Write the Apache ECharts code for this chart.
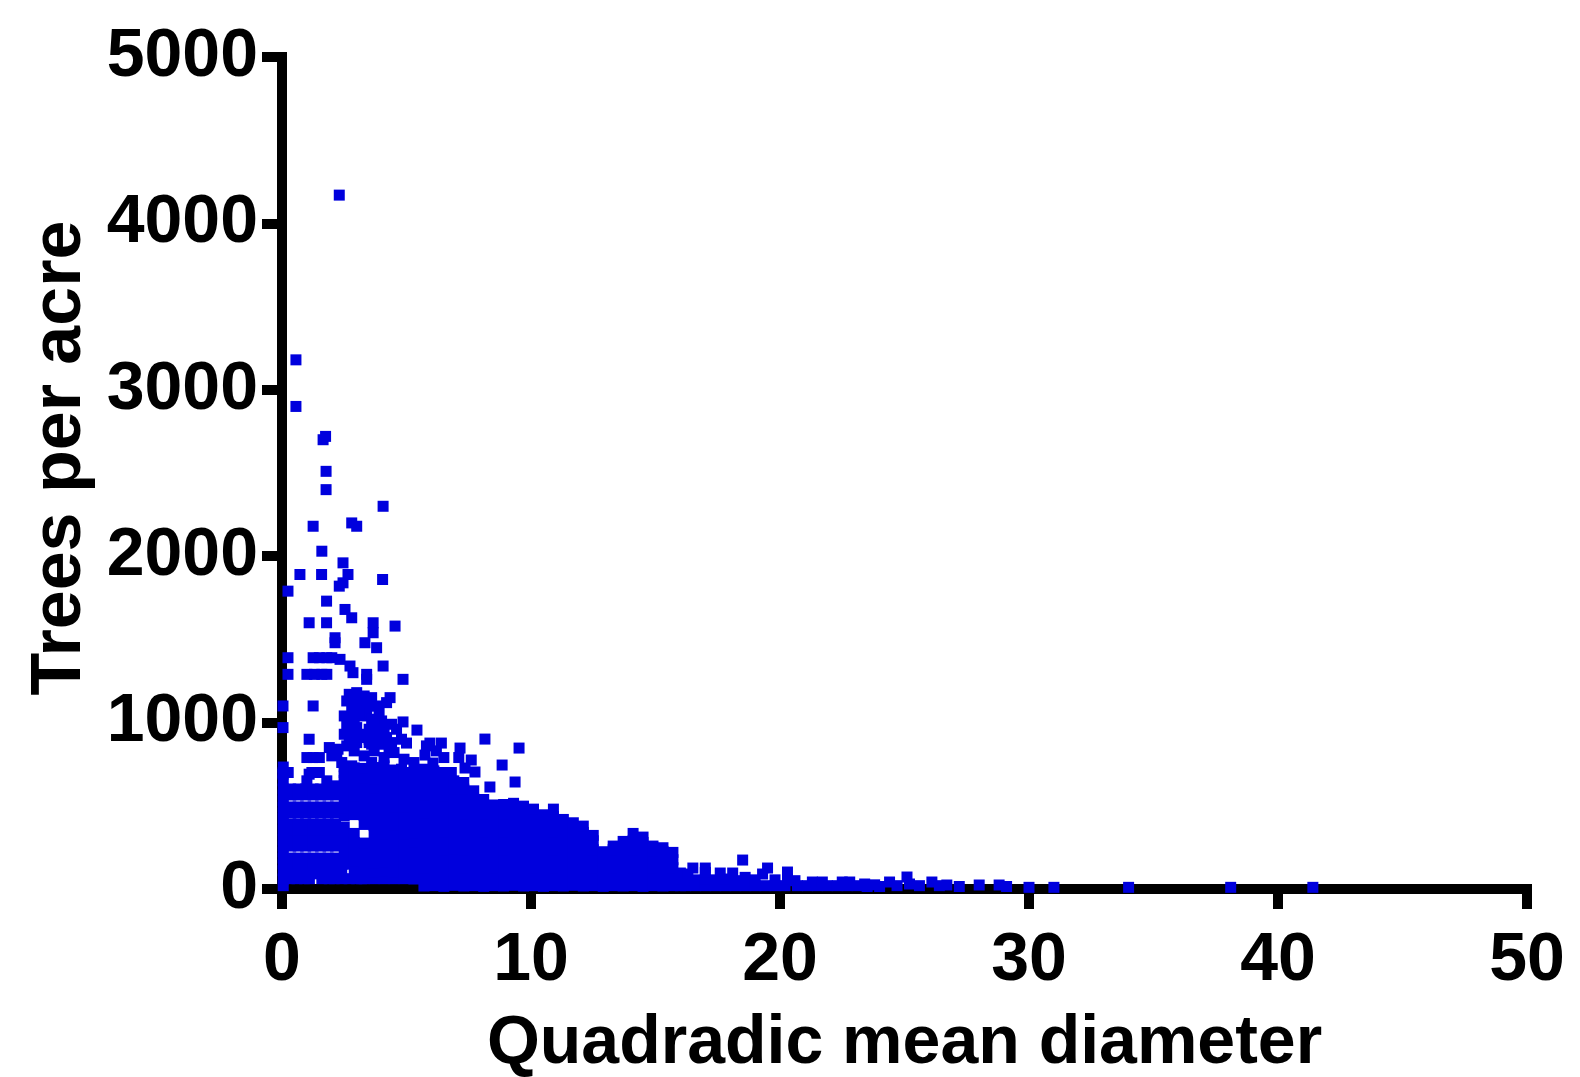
<!DOCTYPE html>
<html>
<head>
<meta charset="utf-8">
<script src="https://cdn.jsdelivr.net/npm/echarts@6/dist/echarts.min.js"></script>
<style>
html,body{margin:0;padding:0;background:#fff;}
#chart{width:1580px;height:1077px;}
</style>
</head>
<body>
<div id="chart"></div>
<script>
// ---- Data ----
var xTicks = [0, 10, 20, 30, 40, 50];
var yTicks = [0, 1000, 2000, 3000, 4000, 5000];
var xTitle = 'Quadradic mean diameter';
var yTitle = 'Trees per acre';

// scattered upper points
var upperPoints = [
  [2.3,4170],[0.56,3180],[0.56,2900],[1.65,2700],[1.75,2720],[1.77,2510],[1.77,2400],[4.06,2300],[1.25,2180],[2.8,2200],[3.0,2180],[1.6,2030],
  [2.45,1960],[2.65,1890],[2.45,1840],[2.3,1820],[0.72,1890],[1.59,1890],[4.04,1860],[0.24,1790],[1.79,1730],[2.53,1680],[2.8,1630],[1.09,1600],[1.79,1600],[3.66,1600],[3.66,1540],[4.54,1580],[2.13,1510],[2.13,1480],[3.33,1480],[3.8,1450],
  [0.24,1390],[1.25,1390],[1.5,1390],[1.8,1390],[2.0,1390],[2.33,1380],[2.73,1340],[2.85,1300],[4.06,1340],[0.24,1290],[1.0,1290],[1.3,1290],[1.6,1290],[1.8,1290],[3.4,1290],[3.4,1260],[4.86,1260],
  [2.7,1170],[3.0,1180],[3.3,1160],[3.6,1150],[2.9,1120],[3.2,1110],[3.5,1100],[3.8,1100],[2.8,1080],[3.4,1070],[4.34,1150],[0.04,1100],[1.25,1100],
  [2.5,1040],[2.9,1030],[3.3,1040],[3.6,1020],[4.0,1010],[4.4,990],[2.6,980],[3.0,970],[3.5,960],[3.9,950],[4.6,960],[2.7,920],[3.1,910],[3.5,900],[4.2,910],[4.86,1004],[3.0,880],[3.6,870],
  [2.6,1130],[3.1,1060],[3.9,1060],[4.2,1120],[2.8,1010],[3.7,990],[4.1,960],[2.5,930],[3.3,930],[3.9,900],[4.4,880],
  [0.04,970],[1.09,900],[5.42,955],[2.25,840],[1.0,790],[1.25,790],[1.5,790],[3.9,870],[5.0,877],[5.94,877],[6.4,877],[7.15,847],[8.15,901],[9.52,847],[8.84,745],[9.36,643],[8.35,613],[7.35,727],[7.75,703],[5.74,805],[6.06,757],[1.09,690],[0.04,690]
];

// semi-dense band, y about 600-900
var middleBand = [
  [1.9,850],[2.2,820],[2.6,860],[2.9,830],[3.3,800],[3.7,830],[4.1,790],[4.5,820],[4.9,780],[5.3,760],
  [2.0,800],[3.5,880],[4.3,850],[4.8,900],[5.8,860],[6.2,830],[6.5,790],[7.1,790],[7.6,775],
  [2.4,760],[2.8,740],[3.2,720],[3.6,760],[4.0,730],[4.4,700],[4.8,720],[5.2,690],[5.6,700],[6.0,680],[6.4,660],[6.8,700],
  [2.5,680],[2.9,650],[3.4,670],[3.8,640],[4.2,660],[4.6,630],[5.0,650],[5.5,620],[5.9,640],[6.3,610],[6.7,600],[7.1,620],
  [1.5,700],[1.8,650],[2.1,620]
];

// horizontal bands of plots near the y axis
var axisRows = [
  [0.3,62],[0.6,62],[0.9,62],[1.1,62],[1.6,62],[1.9,62],[2.1,62],[2.4,62],[2.7,62],[3.0,62],[3.2,62],
  [0.3,92],[0.6,92],[0.9,92],[1.2,92],[1.5,92],[1.8,92],[2.1,92],[2.4,92],
  [0.05,150],[0.35,150],[0.65,150],[0.95,150],[1.25,150],[1.55,150],[1.85,150],[2.15,150],[2.45,150],
  [0.05,186],[0.35,186],[0.65,186],[0.95,186],[1.25,186],[1.55,186],[1.85,186],[2.15,186],
  [0.05,258],[0.35,258],[0.65,258],[0.95,258],[1.25,258],[1.55,258],[1.85,258],[2.15,258],
  [0.05,294],[0.35,294],[0.65,294],[0.95,294],[1.25,294],[1.55,294],[1.85,294],[2.15,294],[2.45,294],
  [0.05,355],[0.35,355],[0.65,355],[0.95,355],[1.25,355],[1.55,355],[1.85,355],[2.15,355],
  [0.05,391],[0.35,391],[0.65,391],[0.95,391],[1.25,391],[1.55,391],[1.85,391],[2.15,391],
  [0.05,457],[0.35,457],[0.65,457],[0.95,457],[1.25,457],[1.55,457],[1.85,457],[2.15,457],
  [0.05,493],[0.35,493],[0.65,493],[0.95,493],[1.25,493],[1.55,493],[1.85,493],[2.15,493],
  [0.05,565],[0.35,565],[0.65,565],[0.95,565],[1.25,565],[1.55,565],[1.85,565],[2.15,565],
  [0.05,601],[0.35,601],[0.65,601],[0.95,601],[1.25,601],[1.55,601],[1.85,601],[2.15,601],
  [0.05,20],[0.05,60],[0.05,110],[0.05,222],[0.05,325],[0.05,425],[0.05,530],[0.05,650],[0.05,700],[0.05,733],
  [0.25,700],[1.2,700],[1.0,650]
];

// dense core: each entry is [diameter, list of trees-per-acre values]
var coreColumns = [
  [2.5,  [150,205,262,318,372,440,486,540,597,652,700,735]],
  [2.9,  [110,168,221,280,334,447,505,560,615,672,728]],
  [3.3,  [62,104,160,218,276,388,442,498,556,610,668,725]],
  [3.7,  [62,100,156,214,270,327,381,440,495,548,606,662,716]],
  [4.1,  [62,106,162,220,274,332,386,444,500,552,610,664,700,740]],
  [4.5,  [62,100,158,212,270,325,384,438,492,550,604,660,715]],
  [4.9,  [62,104,160,216,272,328,380,436,492,548,604,655,700]],
  [5.3,  [60,116,172,226,282,338,392,448,502,556,610,648,700]],
  [5.7,  [18,72,128,182,238,292,348,402,458,512,566,620,670,720]],
  [6.1,  [20,76,130,186,240,296,350,404,460,514,568,615,665,710]],
  [6.5,  [16,70,126,180,236,290,344,400,454,508,560,598,650,700]],
  [6.9,  [22,78,132,188,242,298,352,406,460,512,556,600,650]],
  [7.3,  [18,72,128,182,236,292,346,400,452,504,548,600,640]],
  [7.7,  [20,76,130,184,240,294,348,402,456,510,540,590]],
  [8.1,  [16,70,126,180,234,290,344,398,452,504,538]],
  [8.5,  [20,74,128,184,238,292,346,400,454,505]],
  [8.9,  [18,72,126,182,236,290,344,398,452,508]],
  [9.3,  [22,76,130,186,240,294,348,402,456,515]],
  [9.7,  [18,72,126,180,234,288,342,396,448,498]],
  [10.1, [20,74,128,182,238,292,346,400,450,480]],
  [10.5, [16,70,124,178,232,286,340,394,446]],
  [10.9, [20,74,128,182,236,290,344,396,436,480]],
  [11.3, [18,72,126,180,234,288,340,392,418]],
  [11.7, [22,76,130,184,238,292,346,398]],
  [12.1, [18,72,126,180,234,288,340,378]],
  [12.5, [20,74,128,182,236,290,322]],
  [12.9, [16,70,124,178,224]],
  [13.3, [20,74,128,182,236,258]],
  [13.7, [18,72,126,180,234,286]],
  [14.1, [20,74,128,182,236,290,334]],
  [14.5, [16,70,124,178,232,280,312]],
  [14.9, [20,74,128,182,230,258]],
  [15.3, [18,72,126,180,226,248]],
  [15.7, [20,74,128,176,220]],
  [16.0, [20,60,96]]
];

// long low tail along the x axis
var tailPoints = [
  [16.2,20],[16.2,55],[16.3,90],[16.5,126],[16.6,20],[16.6,55],[17.0,20],[17.0,60],[17.0,100],[17.0,126],[17.4,20],[17.4,55],
  [17.6,96],[17.8,20],[17.8,60],[18.1,96],[18.2,20],[18.2,50],[18.5,174],[18.6,20],[18.6,70],[19.0,20],[19.0,55],[19.3,90],
  [19.4,20],[19.5,126],[19.8,20],[19.8,55],[20.2,20],[20.3,102],[20.3,60],[20.6,50],[20.7,20],[21.1,20],[21.3,42],[21.5,20],
  [21.7,42],[21.9,20],[22.3,20],[22.5,42],[22.7,20],[22.8,42],[23.1,20],[23.4,30],[23.5,15],[23.8,25],[24.0,15],[24.4,42],
  [24.7,20],[25.1,72],[25.2,30],[25.6,20],[26.1,42],[26.4,20],[26.7,24],[27.2,15],[28.0,24],[28.8,24],[29.1,15],
  [30.0,10],[31.0,10],[34.0,10],[38.1,10],[41.4,10]
];

// ---- build the series data ----
var allPoints = [];
upperPoints.forEach(function(p){ allPoints.push(p); });
middleBand.forEach(function(p){ allPoints.push(p); });
axisRows.forEach(function(p){ allPoints.push(p); });
coreColumns.forEach(function(c){ c[1].forEach(function(y){ allPoints.push([c[0], y]); }); });
tailPoints.forEach(function(p){ allPoints.push(p); });

var FONT = '"Liberation Sans", Arial, sans-serif';
var chart = echarts.init(document.getElementById('chart'), null, {renderer: 'canvas'});
chart.setOption({
  animation: false,
  backgroundColor: '#ffffff',
  grid: {left: 282, right: 53, top: 57, bottom: 188, containLabel: false, outerBoundsMode: 'none'},
  xAxis: {
    type: 'value',
    min: xTicks[0], max: xTicks[xTicks.length - 1], interval: xTicks[1] - xTicks[0],
    name: xTitle, nameLocation: 'middle', nameGap: 121,
    nameTextStyle: {fontFamily: FONT, fontSize: 68, fontWeight: 'bold', color: '#000'},
    axisLine: {show: true, onZero: false, lineStyle: {color: '#000', width: 10, cap: 'square'}},
    axisTick: {show: true, inside: false, length: 20, lineStyle: {color: '#000', width: 10}},
    axisLabel: {fontFamily: FONT, fontSize: 68, fontWeight: 'bold', color: '#000', margin: 38,
      formatter: function(v){ return String(v); }},
    splitLine: {show: false}
  },
  yAxis: {
    type: 'value',
    min: yTicks[0], max: yTicks[yTicks.length - 1], interval: yTicks[1] - yTicks[0],
    name: yTitle, nameLocation: 'middle', nameGap: 175,
    nameTextStyle: {fontFamily: FONT, fontSize: 70, fontWeight: 'bold', color: '#000', padding: [0, 0, 0, 30]},
    axisLine: {show: true, onZero: false, lineStyle: {color: '#000', width: 10, cap: 'square'}},
    axisTick: {show: true, inside: false, length: 20, lineStyle: {color: '#000', width: 10}},
    axisLabel: {fontFamily: FONT, fontSize: 68, fontWeight: 'bold', color: '#000', margin: 24,
      formatter: function(v){ return String(v); }},
    splitLine: {show: false}
  },
  series: [{
    type: 'scatter',
    symbol: 'rect',
    symbolSize: 11,
    itemStyle: {color: '#0000dd', opacity: 1},
    data: allPoints,
    z: 5
  }]
});
</script>
</body>
</html>
